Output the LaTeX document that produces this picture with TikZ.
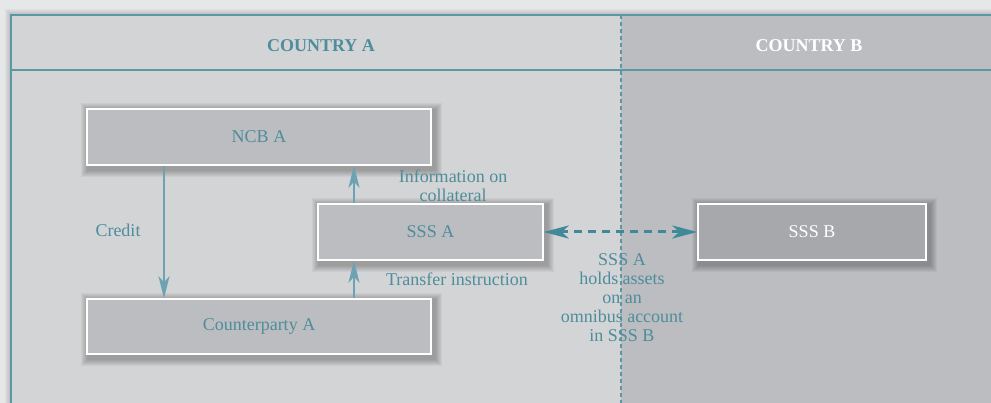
\documentclass[tikz,border=0pt]{standalone}
\usepackage{fontspec}
\setmainfont{Liberation Serif}
\usetikzlibrary{arrows.meta}
\definecolor{bgout}{HTML}{E6E7E9}
\definecolor{panelA}{HTML}{D3D4D6}
\definecolor{panelB}{HTML}{BCBDC0}
\definecolor{boxA}{HTML}{BCBDC0}
\definecolor{boxB}{HTML}{A7A8AB}
\definecolor{teal}{HTML}{4E8D9B}
\definecolor{frameC}{HTML}{5B97A5}
\definecolor{arrowC}{HTML}{6DA2B2}
\definecolor{dashC}{HTML}{3F8998}
\pgfdeclarelayer{back}
\pgfdeclarelayer{shade}
\pgfsetlayers{back,shade,main}
\newcommand{\softshadow}[1]{%
  \begin{pgfonlayer}{shade}
  \foreach \i in {1,...,7}{
    \fill[black, opacity=0.038] ([shift={(2-\i,2-\i)}]#1.north west) rectangle ([shift={(3+\i,4+\i)}]#1.south east);
  }
  \end{pgfonlayer}}
\begin{document}
\begin{tikzpicture}[x=1pt,y=-1pt,
  every node/.style={font=\fontsize{18}{19}\selectfont, text=teal},
  boxstyle/.style={rectangle, draw=white, line width=1.5pt, fill=boxA,
    minimum height=56pt, inner sep=0pt},
  varrow/.style={draw=arrowC, line width=2.6pt, -{Stealth[length=22pt,width=11pt,inset=6pt]}},
  harrow/.style={draw=dashC, line width=3pt, dash pattern=on 8pt off 6pt,
    {Stealth[length=25pt,width=13pt,inset=7pt]}-{Stealth[length=25pt,width=13pt,inset=7pt]}},
  lbl/.style={align=center, inner sep=0pt},
  framestyle/.style={draw=frameC, line width=1.3pt},
  header/.style={font=\fontsize{18}{19}\selectfont\bfseries}
]
\useasboundingbox (0,0) rectangle (991,403);
\begin{pgfonlayer}{back}
\fill[bgout] (0,0) rectangle (991,403);
\foreach \i in {1,...,6}{
  \fill[black, opacity=0.03] (11-\i,15-\i) rectangle (1000,420);
}
\fill[panelA] (11,15) rectangle (1010,420);
\fill[panelB] (621,15) rectangle (991,403);
\draw[framestyle] (995,15) -- (11,15) -- (11,410);
\draw[framestyle] (11,70) -- (995,70);
\draw[draw=frameC, line width=1.4pt, dash pattern=on 4pt off 3pt] (621,15) -- (621,403);
\end{pgfonlayer}

\node[header, text=teal] (hA) at (321,46) {COUNTRY A};
\node[header, text=white] (hB) at (809,46) {COUNTRY B};

\node[boxstyle, minimum width=344pt] (ncb) at (259,137) {NCB A};
\node[boxstyle, minimum width=225pt] (sssa) at (430.5,232) {SSS A};
\node[boxstyle, minimum width=344pt, minimum height=55pt] (cp) at (259,326.5) {Counterparty A};
\node[boxstyle, minimum width=228pt, fill=boxB, text=white] (sssb) at (812,232) {SSS B};
\softshadow{ncb}
\softshadow{sssa}
\softshadow{cp}
\softshadow{sssb}

\draw[varrow] ([xshift=-95pt]ncb.south) -- ([xshift=-95pt]ncb.south |- cp.north);
\draw[varrow] ([xshift=-76.5pt]sssa.north) -- ([xshift=-76.5pt]sssa.north |- ncb.south);
\draw[varrow] ([xshift=-76.5pt]sssa.south |- cp.north) -- ([xshift=-76.5pt]sssa.south);
\draw[harrow] (sssa.east) -- (sssb.west);

\node[lbl] (credit) at (118,230) {Credit};
\node[lbl] (info) at (453,186) {Information on\\collateral};
\node[lbl] (transfer) at (457,279) {Transfer instruction};
\node[lbl] (omni) at (622,298) {SSS A\\holds assets\\on an\\omnibus account\\in SSS B};
\end{tikzpicture}
\end{document}
